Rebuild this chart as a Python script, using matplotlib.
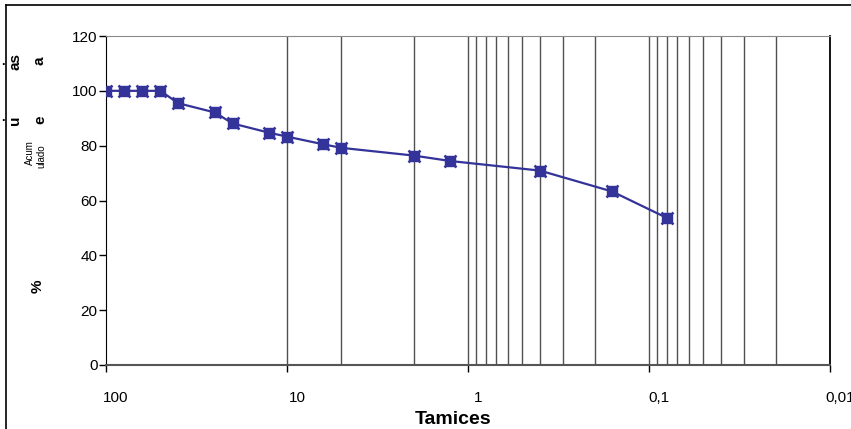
import matplotlib
matplotlib.use("Agg")
import matplotlib.pyplot as plt
import matplotlib.transforms as mtransforms
from matplotlib.lines import Line2D

plt.rcParams['font.family'] = ['Liberation Sans', 'DejaVu Sans']

# sieve openings (mm) and cumulative % passing
tamiz = [100, 80, 63, 50, 40, 25, 20, 12.5, 10, 6.3, 5, 2, 1.25, 0.4, 0.16, 0.08]
pasa = [100, 100, 100, 100, 95.5, 92.1, 88.1, 84.7, 83.3, 80.5, 79.2, 76.4, 74.4, 70.9, 63.3, 53.7]

# vertical reference lines drawn on the chart
rejilla = [10, 5, 2, 1, 0.9, 0.8, 0.7, 0.6, 0.5, 0.4, 0.3, 0.2,
           0.1, 0.09, 0.08, 0.07, 0.06, 0.05, 0.04, 0.03, 0.02]

xticks = [100, 10, 1, 0.1, 0.01]
xlabels = ['100', '10', '1', '0,1', '0,01']
yticks = [0, 20, 40, 60, 80, 100, 120]

fig = plt.figure(figsize=(8.51, 4.29), dpi=100)
ax = fig.add_axes([106 / 851, 1 - 365 / 429, (830 - 106) / 851, (365 - 36) / 429])

for g in rejilla:
    ax.axvline(g, color='#505050', lw=1.0, zorder=1)

col = '#333399'
ax.plot(tamiz, pasa, color=col, lw=1.6, marker='s', ms=7, mfc=col, mec=col, zorder=3)
ax.plot(tamiz, pasa, ls='none', marker='x', ms=9, mew=1.8, color=col, zorder=4)

ax.set_xscale('log')
ax.set_xlim(100, 0.01)
ax.set_ylim(0, 120)
ax.set_xticks(xticks)
ax.set_xticklabels(xlabels)
ax.xaxis.set_minor_locator(matplotlib.ticker.NullLocator())
ax.set_yticks(yticks)
ax.tick_params(axis='both', labelsize=11, direction='out', length=5, width=1, colors='black')
ax.tick_params(axis='x', pad=14)
ax.tick_params(axis='y', pad=1)

# Excel-like label offset to the right of the tick
shift = mtransforms.ScaledTranslation(10 / 100, 0, fig.dpi_scale_trans)
for lab in ax.get_xticklabels():
    lab.set_transform(lab.get_transform() + shift)

ax.spines['top'].set_color('#8a8a8a')
ax.spines['bottom'].set_color('#555555')
ax.spines['bottom'].set_linewidth(1.5)
ax.spines['left'].set_color('black')
ax.spines['right'].set_color('black')
ax.spines['right'].set_linewidth(1.3)

ax.set_xlabel('Tamices', fontsize=14, fontweight='bold', labelpad=0)
ax.xaxis.set_label_coords((453 - 106) / (830 - 106), -(411 - 365) / (365 - 36))

# broken y-axis title pieces
def ftxt(x, y, s, size=11, weight='bold', rot=90):
    fig.text(x / 851, 1 - y / 429, s, rotation=rot, ha='center', va='center',
             fontsize=size, fontweight=weight)

ftxt(15, 61, 'as')
ftxt(40, 61, 'a')
ftxt(15, 120, 'u')
ftxt(40, 120, 'e')
ftxt(30, 153, 'Acum', size=7, weight='normal')
ftxt(41, 156, 'ulado', size=7, weight='normal')
ftxt(38, 286, '%', size=11)
fig.text(3 / 851, 1 - 65 / 429, '.', ha='center', va='baseline', fontsize=9, fontweight='bold')
fig.text(3 / 851, 1 - 121 / 429, '.', ha='center', va='baseline', fontsize=9, fontweight='bold')

# outer frame (left and top)
fig.add_artist(Line2D([6 / 851, 6 / 851], [0, 1 - 5 / 429], color='black', lw=1.2,
                      transform=fig.transFigure))
fig.add_artist(Line2D([6 / 851, 1], [1 - 5 / 429, 1 - 5 / 429], color='black', lw=1.2,
                      transform=fig.transFigure))

fig.savefig('out.png', dpi=100)
